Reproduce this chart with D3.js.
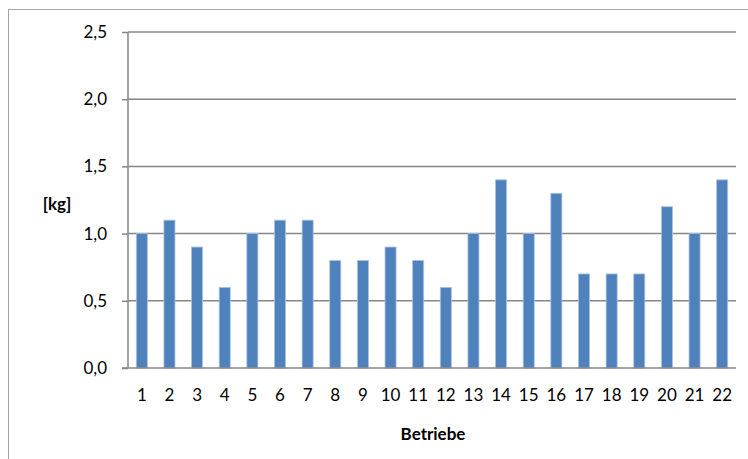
<!DOCTYPE html>
<html>
<head>
<meta charset="utf-8">
<script src="https://cdn.jsdelivr.net/npm/d3@7"></script>
<style>
  html, body { margin: 0; padding: 0; background: #fff; }
  svg { display: block; }
  text { font-family: Lato, "Open Sans", sans-serif; fill: #000; }
</style>
</head>
<body>
<svg id="chart" width="748" height="459"></svg>
<script>
// Betriebe 1–22 and their amounts in kg
const categories = ["1","2","3","4","5","6","7","8","9","10","11","12","13","14","15","16","17","18","19","20","21","22"];
const values = [1.0, 1.1, 0.9, 0.6, 1.0, 1.1, 1.1, 0.8, 0.8, 0.9, 0.8, 0.6, 1.0, 1.4, 1.0, 1.3, 0.7, 0.7, 0.7, 1.2, 1.0, 1.4];
const yTicks = [0, 0.5, 1.0, 1.5, 2.0, 2.5];
const yTitle = "[kg]";
const xTitle = "Betriebe";

const svg = d3.select("#chart");
const plot = { left: 128, right: 736, top: 32, bottom: 368 };

// outer chart frame
svg.append("rect")
  .attr("x", 8.5).attr("y", 9.5)
  .attr("width", 760).attr("height", 470)
  .attr("fill", "#fff")
  .attr("stroke", "#a6a6a6").attr("stroke-width", 1);

const x = d3.scaleBand().domain(categories).range([plot.left, plot.right]).paddingInner(0.6).paddingOuter(0.3);
const y = d3.scaleLinear().domain([0, 2.5]).range([plot.bottom, plot.top]);

const fmt = d => d3.format(".1f")(d).replace(".", ",");

// horizontal gridlines with y-axis labels
const yAxis = d3.axisLeft(y).tickValues(yTicks).tickFormat(fmt).tickSize(6).tickPadding(15);
const gy = svg.append("g").attr("transform", `translate(${plot.left},0)`).call(yAxis);
gy.select(".domain").remove();
gy.selectAll(".tick line").attr("stroke", "#868686").attr("stroke-width", 1.5);
gy.selectAll(".tick text").attr("font-size", 17).style("font-family", "Lato, sans-serif");

svg.append("g").selectAll("line.grid")
  .data(yTicks.filter(d => d > 0))
  .join("line")
  .attr("class", "grid")
  .attr("x1", plot.left).attr("x2", plot.right)
  .attr("y1", d => y(d)).attr("y2", d => y(d))
  .attr("stroke", "#868686").attr("stroke-width", 1.5);

// bars
svg.append("g").selectAll("rect.bar")
  .data(values)
  .join("rect")
  .attr("class", "bar")
  .attr("x", (d, i) => x(categories[i]))
  .attr("width", x.bandwidth())
  .attr("y", d => y(d))
  .attr("height", d => y(0) - y(d))
  .attr("fill", "#4f81bd")
  .attr("stroke", "#a9c3e4").attr("stroke-width", 0.8);

// axis lines
svg.append("line")
  .attr("x1", plot.left).attr("x2", plot.left)
  .attr("y1", plot.top).attr("y2", plot.bottom)
  .attr("stroke", "#868686").attr("stroke-width", 1.5);

const xAxis = d3.axisBottom(x).tickSize(0).tickPadding(21);
const gx = svg.append("g").attr("transform", `translate(0,${plot.bottom})`).call(xAxis);
gx.select(".domain").remove();
gx.selectAll(".tick text").attr("font-size", 17).style("font-family", "Lato, sans-serif");
svg.append("line")
  .attr("x1", plot.left - 6).attr("x2", plot.right)
  .attr("y1", plot.bottom).attr("y2", plot.bottom)
  .attr("stroke", "#868686").attr("stroke-width", 1.5);

// axis titles
svg.append("text")
  .attr("x", 57).attr("y", 210)
  .attr("text-anchor", "middle")
  .attr("font-size", 17).attr("font-weight", "bold")
  .text(yTitle);

svg.append("text")
  .attr("x", 433).attr("y", 440)
  .attr("text-anchor", "middle")
  .attr("font-size", 17).attr("font-weight", "bold")
  .text(xTitle);
</script>
</body>
</html>
